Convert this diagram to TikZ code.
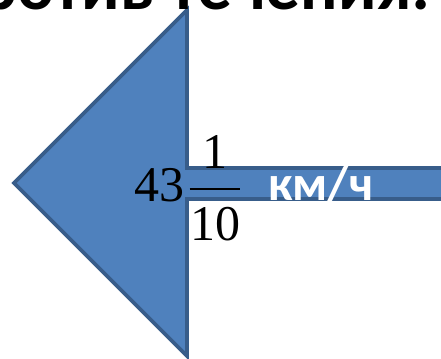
\documentclass[tikz,border=0pt]{standalone}
\usepackage{fontspec}
\newfontfamily\titrefont{Carlito}
\newfontfamily\chiffrefont{Liberation Serif}
\definecolor{flechefill}{HTML}{4F81BD}
\definecolor{flechebord}{HTML}{385D8A}

\begin{document}
\begin{tikzpicture}[x=0.75pt, y=-0.75pt]
  \useasboundingbox (0,0) rectangle (441,359);
  \clip (0,0) rectangle (441,359);
  % fleche vers la gauche, la tige sort par le bord droit
  \filldraw[fill=flechefill, draw=flechebord, line width=2.8pt, line join=miter]
    (14,183) -- (187,10) -- (187,168) -- (460,168) -- (460,199) -- (187,199) -- (187,356) -- cycle;
  \node[anchor=base east, inner sep=0pt, font=\titrefont\bfseries\fontsize{52}{56}\selectfont] (titre) at (431,10) {ротив течения:};
  % nombre mixte 43 1/10
  \begin{scope}[every node/.style={inner sep=0pt, font=\chiffrefont\fontsize{37.5}{40}\selectfont}]
    \node[anchor=base west] (entier) at (134,202) {43};
    \node[anchor=base] (numer) at (215,169) {1};
    \node[anchor=base] (denom) at (215,240) {10};
  \end{scope}
  \draw[line width=1.5pt] (denom.west |- 0,189) -- (denom.east |- 0,189);
  \node[anchor=base west, inner sep=0pt, text=white, font=\titrefont\bfseries\fontsize{37}{40}\selectfont] (unite) at (268,200) {км/ч};
\end{tikzpicture}
\end{document}
